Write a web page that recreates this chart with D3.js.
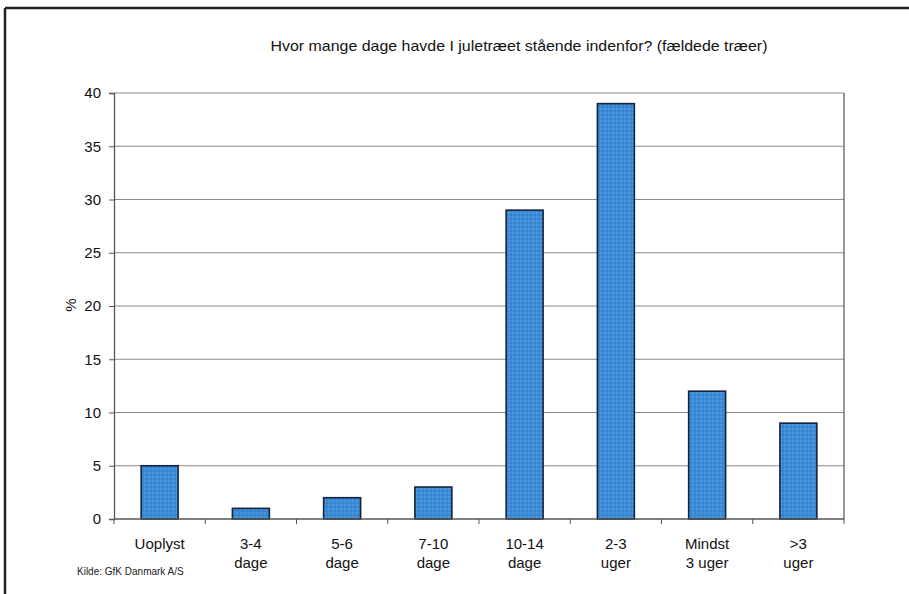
<!DOCTYPE html>
<html>
<head>
<meta charset="utf-8">
<script src="https://cdn.jsdelivr.net/npm/d3@7"></script>
<style>
  html, body { margin: 0; padding: 0; background: #fff; }
  svg { display: block; font-family: "Liberation Sans", Arial, sans-serif; }
</style>
</head>
<body>
<svg id="chart" width="909" height="594"></svg>
<script>
const categories = [["Uoplyst"], ["3-4", "dage"], ["5-6", "dage"], ["7-10", "dage"], ["10-14", "dage"], ["2-3", "uger"], ["Mindst", "3 uger"], [">3", "uger"]];
const values = [5, 1, 2, 3, 29, 39, 12, 9];
const yTicks = [0, 5, 10, 15, 20, 25, 30, 35, 40];
const titleText = "Hvor mange dage havde I juletræet stående indenfor? (fældede træer)";
const yLabel = "%";
const sourceText = "Kilde: GfK Danmark A/S";

const svg = d3.select("#chart");
const m = { left: 114, right: 844, top: 93, bottom: 519 };

// pattern for stippled bar fill
const defs = svg.append("defs");
const pat = defs.append("pattern").attr("id", "stip").attr("patternUnits", "userSpaceOnUse")
  .attr("width", 4).attr("height", 4);
pat.append("rect").attr("width", 4).attr("height", 4).attr("fill", "#3a8ad6");
pat.append("circle").attr("cx", 1).attr("cy", 1).attr("r", 0.7).attr("fill", "#6fb0ea");
pat.append("circle").attr("cx", 3).attr("cy", 3).attr("r", 0.7).attr("fill", "#2f78c0");

// outer frame (left and top)
svg.append("line").attr("x1", 5).attr("x2", 909).attr("y1", 8).attr("y2", 8)
  .attr("stroke", "#222").attr("stroke-width", 2.5);
svg.append("line").attr("x1", 5).attr("x2", 5).attr("y1", 8).attr("y2", 594)
  .attr("stroke", "#222").attr("stroke-width", 2.5);

const x = d3.scaleBand().domain(d3.range(categories.length)).range([m.left, m.right]).paddingInner(0.595).paddingOuter(0.2975);
const xb = d3.scaleBand().domain(d3.range(categories.length)).range([m.left, m.right]);
const y = d3.scaleLinear().domain([0, 40]).range([m.bottom, m.top]);

// gridlines
svg.append("g").selectAll("line").data(yTicks.filter(t => t > 0)).join("line")
  .attr("x1", m.left).attr("x2", m.right)
  .attr("y1", d => y(d)).attr("y2", d => y(d))
  .attr("stroke", "#8a8a8a").attr("stroke-width", 1);

// right border of plot
svg.append("line").attr("x1", m.right).attr("x2", m.right).attr("y1", m.top).attr("y2", m.bottom)
  .attr("stroke", "#555").attr("stroke-width", 1.2);

// y axis
const yAxis = svg.append("g").attr("transform", `translate(${m.left},0)`)
  .call(d3.axisLeft(y).tickValues(yTicks).tickSize(5).tickPadding(8));
yAxis.select(".domain").attr("stroke", "#555").attr("stroke-width", 1.3);
yAxis.selectAll(".tick line").attr("stroke", "#555");
yAxis.selectAll(".tick text").attr("font-size", 15).attr("fill", "#111")
  .attr("font-family", "Liberation Sans, Arial, sans-serif");

// bars
svg.append("g").selectAll("rect").data(values).join("rect")
  .attr("x", (d, i) => x(i)).attr("width", x.bandwidth())
  .attr("y", d => y(d)).attr("height", d => y(0) - y(d))
  .attr("fill", "url(#stip)").attr("stroke", "#15243d").attr("stroke-width", 1.6);

// x axis
const xAxis = svg.append("g").attr("transform", `translate(0,${m.bottom})`);
xAxis.append("line").attr("x1", m.left).attr("x2", m.right).attr("stroke", "#555").attr("stroke-width", 1.3);
xAxis.selectAll("line.tk").data(d3.range(categories.length + 1)).join("line").attr("class", "tk")
  .attr("x1", d => m.left + d * xb.bandwidth()).attr("x2", d => m.left + d * xb.bandwidth())
  .attr("y1", 0).attr("y2", 5).attr("stroke", "#555");

const lbl = svg.append("g").selectAll("text").data(categories).join("text")
  .attr("text-anchor", "middle").attr("font-size", 15).attr("fill", "#111")
  .attr("transform", (d, i) => `translate(${xb(i) + xb.bandwidth() / 2},549)`);
lbl.selectAll("tspan").data(d => d).join("tspan")
  .attr("x", 0).attr("y", (d, i) => i * 19).text(d => d);

// y label
svg.append("text").attr("transform", "translate(76,305) rotate(-90)")
  .attr("text-anchor", "middle").attr("font-size", 15).attr("fill", "#111").text(yLabel);

// title
svg.append("text").attr("x", 519).attr("y", 51).attr("text-anchor", "middle")
  .attr("font-size", 15).attr("fill", "#111").attr("textLength", 497).attr("lengthAdjust", "spacingAndGlyphs")
  .text(titleText);

// source
svg.append("text").attr("x", 77).attr("y", 575).attr("font-size", 10).attr("fill", "#222")
  .text(sourceText);
</script>
</body>
</html>
